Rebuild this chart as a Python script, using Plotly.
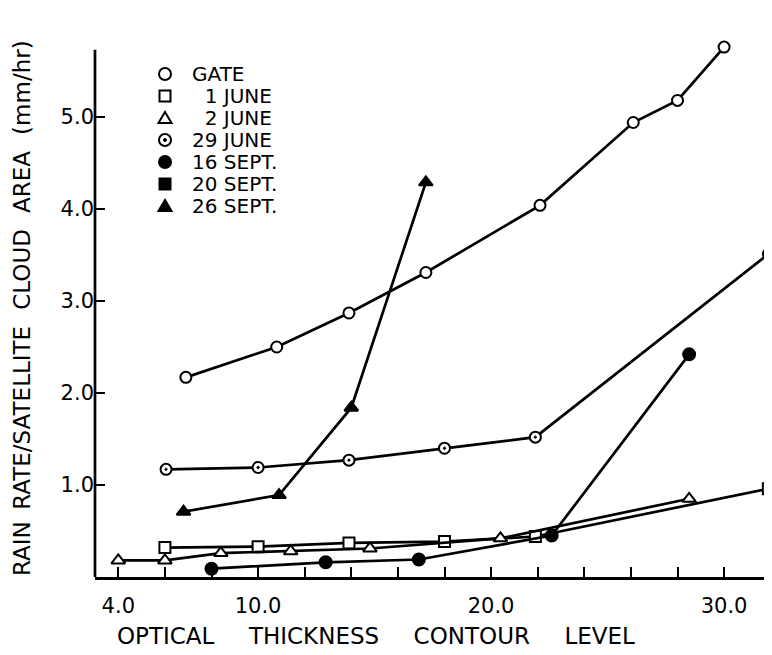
import plotly.graph_objects as go

# ---- data ----
gate_x = [6.9, 10.8, 13.9, 17.2, 22.1, 26.1, 28.0, 30.0]
gate_y = [2.17, 2.50, 2.87, 3.31, 4.04, 4.94, 5.18, 5.76]

june1_x = [6.0, 10.0, 13.9, 18.0, 21.9, 31.9]
june1_y = [0.32, 0.33, 0.37, 0.385, 0.44, 0.96]

june2_x = [4.0, 6.0, 8.4, 11.4, 14.8, 20.4, 28.5]
june2_y = [0.18, 0.18, 0.26, 0.28, 0.31, 0.42, 0.85]

june29_x = [6.05, 10.0, 13.9, 18.0, 21.9, 31.9]
june29_y = [1.17, 1.19, 1.27, 1.40, 1.52, 3.51]

sep16_x = [8.0, 12.9, 16.9, 22.6, 28.5]
sep16_y = [0.09, 0.16, 0.19, 0.45, 2.42]

sep20_x = []
sep20_y = []

sep26_x = [6.8, 10.9, 14.0, 17.2]
sep26_y = [0.71, 0.89, 1.84, 4.29]

series_names = ["GATE", "\u20071 JUNE", "\u20072 JUNE", "29 JUNE", "16 SEPT.", "20 SEPT.", "26 SEPT."]

xtick_vals = [4, 6, 8, 10, 12, 14, 16, 18, 20, 22, 24, 26, 28, 30, 32]
xtick_text = ["4.0", "", "", "10.0", "", "", "", "", "20.0", "", "", "", "", "30.0", ""]
ytick_vals = [1, 2, 3, 4, 5]
ytick_text = ["1.0", "2.0", "3.0", "4.0", "5.0"]
y_axis_top = 5.73   # where the drawn y-axis line stops

FONT = "DejaVu Sans, Liberation Sans, sans-serif"
LW = 2.7
X_PX_PER_UNIT = 23.3
Y_PX_PER_UNIT = 92.0

# The page body has an 8px default margin, so the figure is drawn 8px in from
# the window's top-left corner; size the figure so the plot area lands where
# the reference has it (window pixels).
BODY = 8
W, H = 772 - BODY, 655 - BODY
PL, PR, PT, PB = 95, 772, 43, 577
ML, MT = PL - BODY, PT - BODY
MR = W - (PR - BODY)
MB = H - (PB - BODY)
PW, PH = PR - PL, PB - PT


def px_x(px):
    return (px - PL) / PW


def px_y(py):
    return (PB - py) / PH


styles = [
    dict(symbol="circle", color="white", size=11),
    dict(symbol="square", color="white", size=11),
    dict(symbol="triangle-up", color="white", size=12),
    dict(symbol="circle-dot", color="white", size=11),
    dict(symbol="circle", color="black", size=12),
    dict(symbol="square", color="black", size=11),
    dict(symbol="triangle-up", color="black", size=12),
]
data = [(gate_x, gate_y), (june1_x, june1_y), (june2_x, june2_y), (june29_x, june29_y),
        (sep16_x, sep16_y), (sep20_x, sep20_y), (sep26_x, sep26_y)]

fig = go.Figure()
for (xs, ys), st, nm in zip(data, styles, series_names):
    fig.add_trace(go.Scatter(
        x=xs, y=ys, mode="lines+markers", name=nm.strip("\u2007"), showlegend=False,
        cliponaxis=False,
        line=dict(color="black", width=LW),
        marker=dict(symbol=st["symbol"], color=st["color"], size=st["size"],
                    line=dict(color="black", width=2)),
    ))

shapes = []
annotations = []

# y-axis line (stops a little below the top of the plotting area, as in the original)
shapes.append(dict(type="line", xref="paper", yref="y", x0=0, x1=0, y0=0, y1=y_axis_top,
                   line=dict(color="black", width=LW), layer="above"))

# ---- hand-drawn key (marker symbol + label), like the original figure ----
key_x_px, key_text_px, key_top_px, key_gap_px = 165, 190, 74, 22
r = 6
for i, (name, st) in enumerate(zip(series_names, styles)):
    yc = px_y(key_top_px + i * key_gap_px)
    xc = px_x(key_x_px)
    common = dict(xref="paper", yref="paper", xsizemode="pixel", ysizemode="pixel",
                  xanchor=xc, yanchor=yc, line=dict(color="black", width=2),
                  fillcolor=st["color"])
    if st["symbol"].startswith("circle"):
        shapes.append(dict(type="circle", x0=-r, x1=r, y0=-r, y1=r, **common))
        if st["symbol"] == "circle-dot":
            shapes.append(dict(type="circle", x0=-1.5, x1=1.5, y0=-1.5, y1=1.5,
                               xref="paper", yref="paper", xsizemode="pixel",
                               ysizemode="pixel", xanchor=xc, yanchor=yc,
                               line=dict(color="black", width=1), fillcolor="black"))
    elif st["symbol"] == "square":
        shapes.append(dict(type="rect", x0=-5.5, x1=5.5, y0=-5.5, y1=5.5, **common))
    else:
        shapes.append(dict(type="path", path="M -6.5,-5 L 6.5,-5 L 0,6 Z", **common))
    annotations.append(dict(text=name, xref="paper", yref="paper",
                            x=px_x(key_text_px), y=yc, xanchor="left", yanchor="middle",
                            showarrow=False, font=dict(size=20, family=FONT)))

annotations.append(dict(
    text="OPTICAL\u2003\u2002THICKNESS\u2003\u2002CONTOUR\u2003\u2002LEVEL",
    xref="paper", yref="paper", x=px_x(376), y=px_y(636),
    xanchor="center", yanchor="middle", showarrow=False,
    font=dict(size=23, family=FONT)))
annotations.append(dict(
    text="RAIN\u2002RATE/SATELLITE\u2002\u2009CLOUD\u2002\u2009AREA\u2002\u2009(mm/hr)",
    xref="paper", yref="paper", x=px_x(22), y=px_y(308), textangle=-90,
    xanchor="center", yanchor="middle", showarrow=False,
    font=dict(size=23, family=FONT)))

fig.update_layout(
    width=W, height=H,
    margin=dict(l=ML, r=MR, t=MT, b=MB, pad=0),
    paper_bgcolor="white", plot_bgcolor="white",
    font=dict(family=FONT, color="black"),
    showlegend=False,
    shapes=shapes,
    annotations=annotations,
    xaxis=dict(range=[3, 3 + PW / X_PX_PER_UNIT], showline=True, linewidth=LW,
               linecolor="black",
               ticks="inside", ticklen=10, tickwidth=2, tickcolor="black",
               tickvals=xtick_vals, ticktext=xtick_text, automargin=False,
               showgrid=False, zeroline=False, tickfont=dict(size=21),
               ticklabelstandoff=8),
    yaxis=dict(range=[0, PH / Y_PX_PER_UNIT], showline=False,
               ticks="inside", ticklen=10, tickwidth=2, tickcolor="black",
               tickvals=ytick_vals, ticktext=ytick_text, automargin=False,
               showgrid=False, zeroline=False, tickfont=dict(size=21)),
)

fig.write_html("out.html")
